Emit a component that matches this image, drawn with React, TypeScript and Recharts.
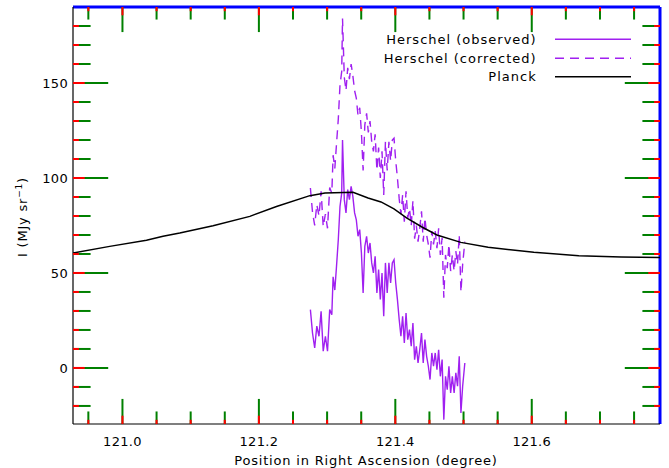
/**
 * Perfil de intensidad: Herschel (observado / corregido) vs Planck
 */

import { LineChart, Line, XAxis, YAxis, ReferenceLine } from 'recharts';

// Herschel: posición en AR (grados) e intensidad (MJy/sr)
const RA_HERSCHEL = [
  121.2755, 121.2786, 121.2818, 121.2849, 121.2881, 121.2912, 121.2943, 121.2975, 121.3006, 121.3038,
  121.3069, 121.3088, 121.3113, 121.3138, 121.3164, 121.3189, 121.3214, 121.3226, 121.3252, 121.3277,
  121.3302, 121.3327, 121.3352, 121.3377, 121.3403, 121.3428, 121.3453, 121.3478, 121.3503, 121.3528,
  121.3553, 121.3579, 121.3604, 121.3629, 121.3654, 121.3679, 121.3704, 121.373, 121.3755, 121.378,
  121.3805, 121.383, 121.3855, 121.3881, 121.3906, 121.3931, 121.3956, 121.3981, 121.4006, 121.4031,
  121.4057, 121.4082, 121.4107, 121.4132, 121.4157, 121.4182, 121.4208, 121.4233, 121.4258, 121.4283,
  121.4308, 121.4333, 121.4358, 121.4384, 121.4409, 121.4434, 121.4459, 121.4484, 121.4509, 121.4535,
  121.456, 121.4585, 121.461, 121.4635, 121.466, 121.4686, 121.4711, 121.4736, 121.4761, 121.4786,
  121.4811, 121.4836, 121.4862, 121.4887, 121.4912, 121.4937, 121.4962, 121.4987, 121.5019,
];

const I_OBSERVED = [
  30.7, 18.4, 10.5, 22, 16.7, 29.8, 8.8, 16.7, 8.8, 30.7,
  28, 48, 41, 53.5, 67.5, 85, 92, 120, 88.6, 81.6,
  93.9, 88.6, 95.6, 90.4, 81.6, 78, 69.3, 72.8, 60.5, 39.5,
  64, 69.3, 60.5, 65.8, 55.3, 50, 58.8, 39.5, 51.8, 36,
  50, 27.2, 55.3, 39.5, 55.3, 44.7, 55.3, 57, 44.7, 36,
  25.4, 16.7, 27.2, 13.2, 28.9, 14.9, 20.2, 11.4, 23.7, 4.4,
  11.4, 2.6, 9.6, 18.4, 2.6, 14.9, 6.1, 0.9, -6.1, 7.9,
  0.9, 7.9, -0.9, 9.6, -4.4, 4.4, -27.2, -4.4, -11.4, 0.9,
  -13.2, -4.4, -13.2, -2.6, -9.6, 6.1, -23.7, -9.6, 2.6,
];

const I_CORRECTED = [
  94.7, 82, 75, 86, 80, 93, 74.5, 81, 73.5, 95,
  92, 112, 105, 118, 131, 149, 156, 184, 153, 146,
  158, 152, 160, 154, 146, 142, 133, 137, 124, 104,
  128, 134, 124, 130, 119, 114, 123, 104, 116, 100,
  114, 91, 119, 104, 119, 109, 120, 121, 109, 100,
  89, 81, 91, 77, 93, 79, 84, 75, 88, 68,
  75, 66.5, 73.5, 82.5, 66.5, 79, 70, 65, 58, 72,
  65, 72, 63, 73.5, 59.5, 68.5, 37, 59.5, 52.5, 65,
  51, 59.5, 51, 61.5, 54.5, 70, 40, 54.5, 66.5,
];

// Planck
const RA_PLANCK = [
  120.9275, 120.9813, 121.0352, 121.0595, 121.084, 121.1328, 121.1867, 121.2258, 121.2747, 121.297,
  121.338, 121.36, 121.379, 121.398, 121.417, 121.439, 121.461, 121.496, 121.536, 121.603,
  121.669, 121.731, 121.788,
];
const I_PLANCK = [
  60.5, 64.0, 67.2, 69.3, 71.0, 74.9, 79.8, 85.0, 90.7, 92.1,
  92.5, 89.5, 87.4, 83.7, 78.9, 74.2, 70.0, 66.1, 63.5, 60.9,
  59.1, 58.4, 58.2,
];

// Ejes
const X_DOMAIN = [120.9275, 121.788];
const Y_DOMAIN = [-29.5, 190];
const X_TICKS = [
  120.95, 121.0, 121.05, 121.1, 121.15, 121.2, 121.25, 121.3, 121.35, 121.4,
  121.45, 121.5, 121.55, 121.6, 121.65, 121.7, 121.75,
];
const X_LABELED = [121.0, 121.2, 121.4, 121.6];
const Y_TICKS = [-20, -10, 0, 10, 20, 30, 40, 50, 60, 70, 80, 90, 100, 110, 120, 130, 140, 150, 160, 170, 180];
const Y_LABELED = [0, 50, 100, 150];

// largo de las marcas, en unidades de datos (2% del área, como en IDL)
const XTICK_LEN = 4.4; // en MJy/sr
const YTICK_LEN = 0.0172; // en grados

// bordes del área de trazado
const PLOT_TOP = 7;
const PLOT_RIGHT = 660;

const PURPLE = '#A020F0';
const FONT = 'DejaVu Sans';

const SERIES = [
  { name: 'Herschel (observed)', color: PURPLE, dash: undefined },
  { name: 'Herschel (corrected)', color: PURPLE, dash: '9 6' },
  { name: 'Planck', color: '#000', dash: undefined },
];

const observedData = RA_HERSCHEL.map((ra, i) => ({ ra, value: I_OBSERVED[i] }));
const correctedData = RA_HERSCHEL.map((ra, i) => ({ ra, value: I_CORRECTED[i] }));
const planckData = RA_PLANCK.map((ra, i) => ({ ra, value: I_PLANCK[i] }));

const isIn = (list: number[], v: number) => list.some((t) => Math.abs(t - v) < 1e-6);

// prueba de depuración: marcas en color para ver cuál mecanismo se dibuja
function BottomTick({ x, y, payload }: any) {
  const major = isIn(X_LABELED, payload.value);
  const len = major ? 8.3 : 4.2;
  return (
    <g>
      <path d={`M${x},${y}L${x},${y - len}`} stroke="red" strokeWidth={2} />
      <path d={`M${x},${PLOT_TOP}L${x},${PLOT_TOP + len}`} stroke="red" strokeWidth={2} />
      {major && (
        <text x={x} y={y + 22} textAnchor="middle" fontFamily={FONT} fontSize={13} letterSpacing={0.3} fill="#000">
          {payload.value.toFixed(1)}
        </text>
      )}
    </g>
  );
}

function LeftTick({ x, y, payload }: any) {
  const major = isIn(Y_LABELED, payload.value);
  const len = major ? 11.7 : 5.9;
  return (
    <g>
      <path d={`M${x},${y}L${x + len},${y}`} stroke="red" strokeWidth={2} />
      <path d={`M${PLOT_RIGHT},${y}L${PLOT_RIGHT - len},${y}`} stroke="red" strokeWidth={2} />
      {major && (
        <text x={x - 5} y={y + 4.7} textAnchor="end" fontFamily={FONT} fontSize={13} letterSpacing={0.3} fill="#000">
          {payload.value}
        </text>
      )}
    </g>
  );
}

// títulos de ejes y leyenda, superpuestos al gráfico
function Overlay() {
  return (
    <svg
      width={669}
      height={468}
      style={{ position: 'absolute', left: 0, top: 0, pointerEvents: 'none' }}
    >
      <text x={366} y={465} textAnchor="middle" fontFamily={FONT} fontSize={13} letterSpacing={0.8} fill="#000">
        Position in Right Ascension (degree)
      </text>
      <text
        x={27}
        y={217}
        transform="rotate(-90, 27, 217)"
        textAnchor="middle"
        fontFamily={FONT}
        fontSize={13}
        letterSpacing={0.8}
        fill="#000"
      >
        I (MJy sr
        <tspan dy={-5} fontSize={9}>
          −1
        </tspan>
        <tspan dy={5}>)</tspan>
      </text>
      {SERIES.map((s, i) => {
        const cy = [39.3, 58.3, 76.7][i];
        return (
          <g key={s.name}>
            <text x={536.7} y={cy + 4.6} textAnchor="end" fontFamily={FONT} fontSize={13} letterSpacing={1} fill="#000">
              {s.name}
            </text>
            <path d={`M555,${cy}L631,${cy}`} stroke={s.color} strokeWidth={1.5} strokeDasharray={s.dash} />
          </g>
        );
      })}
    </svg>
  );
}

export default function App() {
  const [x0, x1] = X_DOMAIN;
  const [y0, y1] = Y_DOMAIN;

  const xTickLines = X_TICKS.flatMap((t) => {
    const len = isIn(X_LABELED, t) ? XTICK_LEN : XTICK_LEN / 2;
    return [
      [{ x: t, y: y0 }, { x: t, y: y0 + len * 3 }],
      [{ x: t, y: y1 }, { x: t, y: y1 - len * 3 }],
    ];
  });
  const yTickLines = Y_TICKS.flatMap((t) => {
    const len = isIn(Y_LABELED, t) ? YTICK_LEN : YTICK_LEN / 2;
    return [
      [{ x: x0, y: t }, { x: x0 + len * 3, y: t }],
      [{ x: x1, y: t }, { x: x1 - len * 3, y: t }],
    ];
  });

  return (
    <div style={{ position: 'absolute', left: 0, top: 0, width: 669, height: 468, background: '#fff' }}>
      <LineChart width={669} height={468} margin={{ top: 7, right: 9, bottom: 0, left: 0 }}>
        <XAxis
          xAxisId="bottom"
          type="number"
          dataKey="ra"
          domain={X_DOMAIN}
          allowDataOverflow
          ticks={X_TICKS}
          interval={0}
          height={44}
          tickSize={0}
          tickMargin={0}
          tickLine={false}
          tick={<BottomTick />}
          axisLine={{ stroke: '#000', strokeWidth: 1.2 }}
        />
        <YAxis
          yAxisId="left"
          type="number"
          domain={Y_DOMAIN}
          allowDataOverflow
          ticks={Y_TICKS}
          interval={0}
          width={73}
          tickSize={0}
          tickMargin={0}
          tickLine={false}
          tick={<LeftTick />}
          axisLine={{ stroke: '#000', strokeWidth: 1.2 }}
        />
        <ReferenceLine xAxisId="bottom" yAxisId="left" y={y1} stroke="blue" strokeWidth={3} ifOverflow="visible" />
        <ReferenceLine xAxisId="bottom" yAxisId="left" x={x1} stroke="blue" strokeWidth={3} ifOverflow="visible" />
        {[...xTickLines, ...yTickLines].map((seg, i) => (
          <ReferenceLine
            key={`tick-${i}`}
            xAxisId="bottom"
            yAxisId="left"
            segment={seg}
            stroke="green"
            strokeWidth={2}
            ifOverflow="visible"
          />
        ))}
        <Line
          xAxisId="bottom"
          yAxisId="left"
          data={observedData}
          dataKey="value"
          name={SERIES[0].name}
          type="linear"
          stroke={SERIES[0].color}
          strokeWidth={1.4}
          dot={false}
          isAnimationActive={false}
        />
        <Line
          xAxisId="bottom"
          yAxisId="left"
          data={correctedData}
          dataKey="value"
          name={SERIES[1].name}
          type="linear"
          stroke={SERIES[1].color}
          strokeWidth={1.4}
          strokeDasharray={SERIES[1].dash}
          dot={false}
          isAnimationActive={false}
        />
        <Line
          xAxisId="bottom"
          yAxisId="left"
          data={planckData}
          dataKey="value"
          name={SERIES[2].name}
          type="linear"
          stroke={SERIES[2].color}
          strokeWidth={1.5}
          dot={false}
          isAnimationActive={false}
        />
      </LineChart>
      <Overlay />
    </div>
  );
}
